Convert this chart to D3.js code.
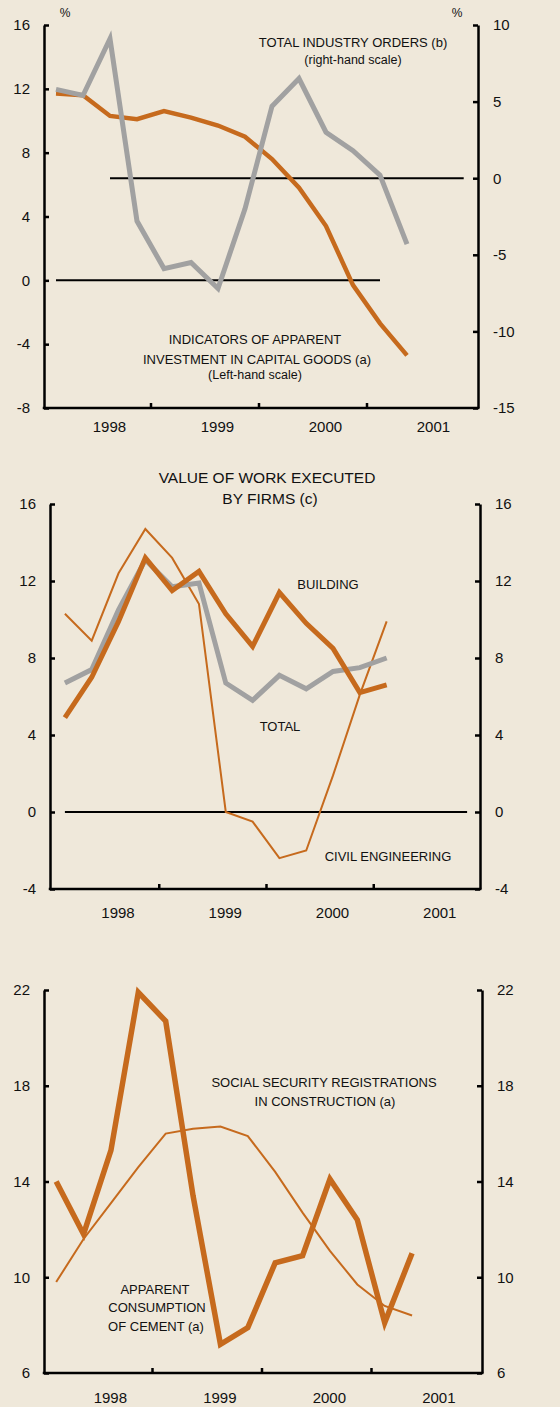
<!DOCTYPE html>
<html>
<head>
<meta charset="utf-8">
<script src="https://cdn.jsdelivr.net/npm/d3@7"></script>
<style>
  body { margin: 0; background: #efe8da; }
  svg { display: block; font-family: 'Liberation Sans', Arial, sans-serif; }
  .axis text { fill: #111; }
  .axis line { stroke: #000; stroke-width: 2.5; }
  .note { fill: #111; text-anchor: middle; }
</style>
</head>
<body>
<script>
const quarters = ['1998 Q1', '1998 Q2', '1998 Q3', '1998 Q4', '1999 Q1', '1999 Q2', '1999 Q3',
                  '1999 Q4', '2000 Q1', '2000 Q2', '2000 Q3', '2000 Q4', '2001 Q1', '2001 Q2'];
const yearLabels = [1998, 1999, 2000, 2001];
const yearTicks = [1999, 2000, 2001];

// top panel
const capitalGoods = [11.7, 11.6, 10.3, 10.1, 10.6, 10.2, 9.7, 9.0, 7.6, 5.8, 3.4, -0.3, -2.7, -4.7];
const industryOrders = [5.8, 5.4, 9.1, -2.8, -5.9, -5.5, -7.2, -2.0, 4.7, 6.5, 3.0, 1.8, 0.2, -4.3];
const leftTicks1 = [-8, -4, 0, 4, 8, 12, 16];
const rightTicks1 = [-15, -10, -5, 0, 5, 10];

// middle panel
const building = [4.9, 7.0, 9.9, 13.2, 11.5, 12.5, 10.3, 8.6, 11.4, 9.8, 8.5, 6.2, 6.6];
const totalWork = [6.7, 7.4, 10.5, 13.1, 11.7, 11.9, 6.7, 5.8, 7.1, 6.4, 7.3, 7.5, 8.0];
const civilEngineering = [10.3, 8.9, 12.4, 14.7, 13.2, 10.8, 0.0, -0.5, -2.4, -2.0, 1.9, 6.1, 9.9];
const ticks2 = [-4, 0, 4, 8, 12, 16];

// bottom panel
const cement = [14.0, 11.8, 15.3, 21.9, 20.7, 13.4, 7.2, 7.9, 10.6, 10.9, 14.1, 12.4, 8.1, 11.0];
const socialSecurity = [9.8, 11.6, 13.1, 14.6, 16.0, 16.2, 16.3, 15.9, 14.4, 12.7, 11.1, 9.7, 8.8, 8.4];
const ticks3 = [6, 10, 14, 18, 22];

const ORANGE = '#c66a1d';
const GREY = '#a1a1a1';

const width = 560;
const height = 1407;

const qTime = q => +q.slice(0, 4) + (+q.slice(-1) - 0.5) / 4;

const svg = d3.select('body')
  .append('svg')
  .attr('width', width)
  .attr('height', height);

svg.append('rect')
  .attr('width', width)
  .attr('height', height)
  .attr('fill', '#efe8da');

const panel = cfg => {
  const g = svg.append('g');
  const { left, right, top, bottom } = cfg.frame;

  const xScale = d3.scaleLinear().domain([1998, 2002]).range(cfg.xRange);
  const yLeft = d3.scaleLinear().domain(cfg.leftDomain).range([bottom, top]);
  const yRight = d3.scaleLinear().domain(cfg.rightDomain).range([bottom, top]);

  const leftAxis = d3.axisLeft(yLeft)
    .tickValues(cfg.leftTicks)
    .tickFormat(d => String(d))
    .tickSize(-5)
    .tickSizeOuter(0)
    .tickPadding(14);
  const rightAxis = d3.axisRight(yRight)
    .tickValues(cfg.rightTicks)
    .tickFormat(d => String(d))
    .tickSize(-5)
    .tickSizeOuter(0)
    .tickPadding(15);
  const bottomAxis = d3.axisBottom(xScale)
    .tickValues(yearTicks)
    .tickSize(-5)
    .tickSizeOuter(0)
    .tickFormat('');

  const styleAxis = sel => {
    sel.attr('class', 'axis')
      .attr('font-family', null)
      .attr('font-size', 15);
    sel.select('.domain').attr('stroke', '#000').attr('stroke-width', 2.5);
  };

  g.append('g')
    .attr('transform', `translate(${left}, 0)`)
    .call(leftAxis)
    .call(styleAxis);

  g.append('g')
    .attr('transform', `translate(${right}, 0)`)
    .call(rightAxis)
    .call(styleAxis);

  g.append('g')
    .attr('transform', `translate(0, ${bottom})`)
    .call(bottomAxis)
    .call(styleAxis)
    .call(sel => sel.select('.domain').remove());

  g.append('line')
    .attr('x1', left - 1.25)
    .attr('x2', right + 1.25)
    .attr('y1', bottom)
    .attr('y2', bottom)
    .attr('stroke', '#000')
    .attr('stroke-width', 2.5);

  g.selectAll('.year')
    .data(yearLabels)
    .enter().append('text')
    .attr('class', 'year')
    .attr('x', d => xScale(d + 0.62))
    .attr('y', bottom + cfg.yearOffset)
    .attr('text-anchor', 'middle')
    .attr('font-size', 15)
    .attr('fill', '#111')
    .text(d => d);

  return { g, xScale, yLeft, yRight };
};

const zeroLine = (p, yScale, from, to) => {
  p.g.append('line')
    .attr('x1', p.xScale(from))
    .attr('x2', p.xScale(to))
    .attr('y1', yScale(0))
    .attr('y2', yScale(0))
    .attr('stroke', '#000')
    .attr('stroke-width', 2);
};

const series = (p, values, yScale, color, strokeWidth) => {
  const line = d3.line()
    .x((d, i) => p.xScale(qTime(quarters[i])))
    .y(d => yScale(d));
  p.g.append('path')
    .datum(values)
    .attr('d', line)
    .attr('fill', 'none')
    .attr('stroke', color)
    .attr('stroke-width', strokeWidth)
    .attr('stroke-linejoin', 'miter');
};

const notes = (p, list, size) => {
  list.forEach(([text, x, y]) => {
    p.g.append('text')
      .attr('class', 'note')
      .attr('x', x)
      .attr('y', y)
      .attr('font-size', size)
      .text(text);
  });
};

// --- top panel
const p1 = panel({
  frame: { left: 44, right: 478, top: 25, bottom: 408 },
  xRange: [42.5, 474.5],
  leftDomain: [-8, 16], rightDomain: [-15, 10],
  leftTicks: leftTicks1, rightTicks: rightTicks1,
  yearOffset: 24
});
zeroLine(p1, p1.yLeft, 1998.125, 2001.125);
zeroLine(p1, p1.yRight, 1998.625, 2001.9);
series(p1, capitalGoods, p1.yLeft, ORANGE, 4.5);
series(p1, industryOrders, p1.yRight, GREY, 5);
notes(p1, [['%', 65, 17], ['%', 457, 17]], 12);
notes(p1, [['TOTAL INDUSTRY ORDERS (b)', 353, 47],
           ['INDICATORS OF APPARENT', 255, 344],
           ['INVESTMENT IN CAPITAL GOODS (a)', 257, 364]], 13);
notes(p1, [['(right-hand scale)', 353, 64],
           ['(Left-hand scale)', 255, 379]], 12.5);

// --- middle panel
const p2 = panel({
  frame: { left: 50, right: 480, top: 504, bottom: 889 },
  xRange: [51.5, 480.5],
  leftDomain: [-4, 16], rightDomain: [-4, 16],
  leftTicks: ticks2, rightTicks: ticks2,
  yearOffset: 29
});
zeroLine(p2, p2.yLeft, 1998.125, 2001.875);
series(p2, civilEngineering, p2.yLeft, ORANGE, 2);
series(p2, totalWork, p2.yLeft, GREY, 5);
series(p2, building, p2.yLeft, ORANGE, 5);
notes(p2, [['VALUE OF WORK EXECUTED', 267, 483], ['BY FIRMS (c)', 270, 504]], 15.5);
notes(p2, [['BUILDING', 328, 589], ['TOTAL', 280, 731], ['CIVIL ENGINEERING', 388, 861]], 13);

// --- bottom panel
const p3 = panel({
  frame: { left: 44, right: 482, top: 990, bottom: 1373 },
  xRange: [42.5, 480.5],
  leftDomain: [6, 22], rightDomain: [6, 22],
  leftTicks: ticks3, rightTicks: ticks3,
  yearOffset: 30
});
series(p3, socialSecurity, p3.yLeft, ORANGE, 2);
series(p3, cement, p3.yLeft, ORANGE, 5.5);
notes(p3, [['SOCIAL SECURITY REGISTRATIONS', 324, 1087],
           ['IN CONSTRUCTION (a)', 325, 1106],
           ['APPARENT', 155, 1294],
           ['CONSUMPTION', 157, 1312],
           ['OF CEMENT (a)', 156, 1331]], 13);
</script>
</body>
</html>
